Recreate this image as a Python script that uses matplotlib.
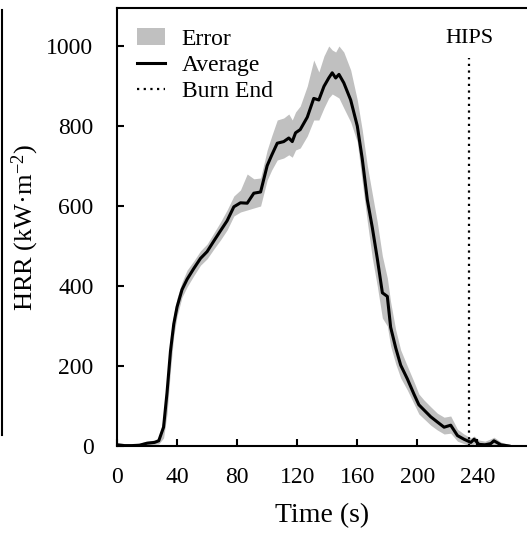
import matplotlib
matplotlib.use("Agg")
import matplotlib.pyplot as plt
from matplotlib.lines import Line2D
from matplotlib.patches import Patch
import numpy as np

plt.rcParams['font.family'] = ['Liberation Serif', 'DejaVu Serif']
plt.rcParams['mathtext.fontset'] = 'custom'
plt.rcParams['mathtext.rm'] = 'Liberation Serif'
plt.rcParams['mathtext.it'] = 'Liberation Serif:italic'

# ---- data ----
time = [0, 5, 10, 15, 20, 25, 27.8, 31, 33.3, 35.6, 37.8, 40, 43.3, 46.7, 51, 55.6,
        60, 64.4, 68.9, 73.3, 77.8, 82.2, 86.7, 91.1, 95.6, 100, 103, 106.7, 111,
        114.4, 116.7, 118.9, 122, 126.7, 131, 134.4, 137.8, 141, 143.3, 145.6,
        147.8, 151, 155.6, 160, 163.3, 166.7, 170, 173.3, 176.7, 180, 182.2, 185.6,
        188.9, 193.3, 197.8, 201, 204.4, 208.9, 213.3, 217.8, 222.2, 226.7, 231,
        235.6, 237.8, 241, 245, 248.9, 251, 255.6, 261]
average = [3, 1, 1, 2, 7, 9, 13, 47, 133, 237, 305, 348, 391, 417, 443, 469,
           486, 512, 538, 563, 598, 608, 607, 632, 635, 701, 727, 757, 761,
           770, 761, 783, 791, 822, 869, 865, 899, 920, 933, 920,
           929, 908, 865, 800, 718, 615, 546, 469, 383, 374, 297, 245,
           202, 168, 129, 103, 90, 73, 60, 47, 52, 26, 17,
           9, 17, 4, 3, 6, 13, 3, 0]
upper = [8, 6, 5, 7, 12, 15, 20, 70, 170, 275, 330, 370, 410, 440, 462, 488,
         505, 532, 560, 590, 625, 640, 680, 668, 670, 740, 775, 815, 820,
         830, 815, 835, 850, 900, 965, 935, 975, 1000, 990, 985,
         1000, 985, 940, 865, 790, 700, 630, 560, 475, 420, 360, 290,
         240, 200, 160, 130, 115, 98, 82, 72, 75, 42, 30,
         20, 25, 15, 12, 18, 22, 10, 4]
lower = [0, 0, 0, 0, 2, 4, 5, 20, 80, 190, 275, 325, 372, 398, 425, 452,
         468, 492, 515, 540, 575, 585, 590, 595, 600, 665, 690, 715, 720,
         728, 722, 740, 745, 775, 815, 815, 845, 870, 880, 875,
         870, 845, 810, 760, 660, 560, 470, 400, 320, 300, 250, 205,
         170, 140, 105, 80, 68, 52, 40, 30, 32, 12, 6,
         0, 5, 0, 0, 0, 4, 0, 0]
burn_end = 234.5
burn_end_top = 970
material = "HIPS"

fig = plt.figure(figsize=(5.27, 5.35), dpi=100)
ax = fig.add_axes([117/527, (535-446)/535, 1 - 117/527, (446-8)/535])

ax.fill_between(time, lower, upper, color='#c0c0c0', linewidth=0, label='Error')
ax.plot(time, average, color='black', lw=2.2, label='Average')
ax.plot([burn_end, burn_end], [0, burn_end_top], color='black', lw=1.6,
        linestyle=(0, (1, 2)), label='Burn End')
ax.text(burn_end, 1020, material, ha='center', va='center', fontsize=16)

ax.set_xlim(0, 273)
ax.set_ylim(0, 1095)
ax.set_xticks([0, 40, 80, 120, 160, 200, 240])
ax.set_yticks([0, 200, 400, 600, 800, 1000])
ax.tick_params(axis='both', direction='in', length=5, width=1.5, labelsize=17)
ax.tick_params(axis='x', pad=15)
ax.tick_params(axis='y', pad=17)
for s in ['left', 'bottom', 'top']:
    ax.spines[s].set_linewidth(1.5)
ax.spines['right'].set_visible(False)

ax.set_xlabel('Time (s)', fontsize=20, labelpad=11)
ax.set_ylabel('HRR (kW·m$^{-2}$)', fontsize=19, labelpad=4)

handles = [Patch(facecolor='#c0c0c0', edgecolor='none'),
           Line2D([], [], color='black', lw=2.2),
           Line2D([], [], color='black', lw=1.6, linestyle=(0, (1, 2)))]
ax.legend(handles, ['Error', 'Average', 'Burn End'], loc='upper left',
          frameon=False, fontsize=17, handlelength=1.2, handletextpad=0.7,
          labelspacing=0.2, borderaxespad=0.0, bbox_to_anchor=(0.025, 0.975))

fig.add_artist(Line2D([1.5/527, 1.5/527], [(535-10)/535, (535-435)/535],
                      color='black', lw=1.5, transform=fig.transFigure))

fig.savefig('out.png', dpi=100)
